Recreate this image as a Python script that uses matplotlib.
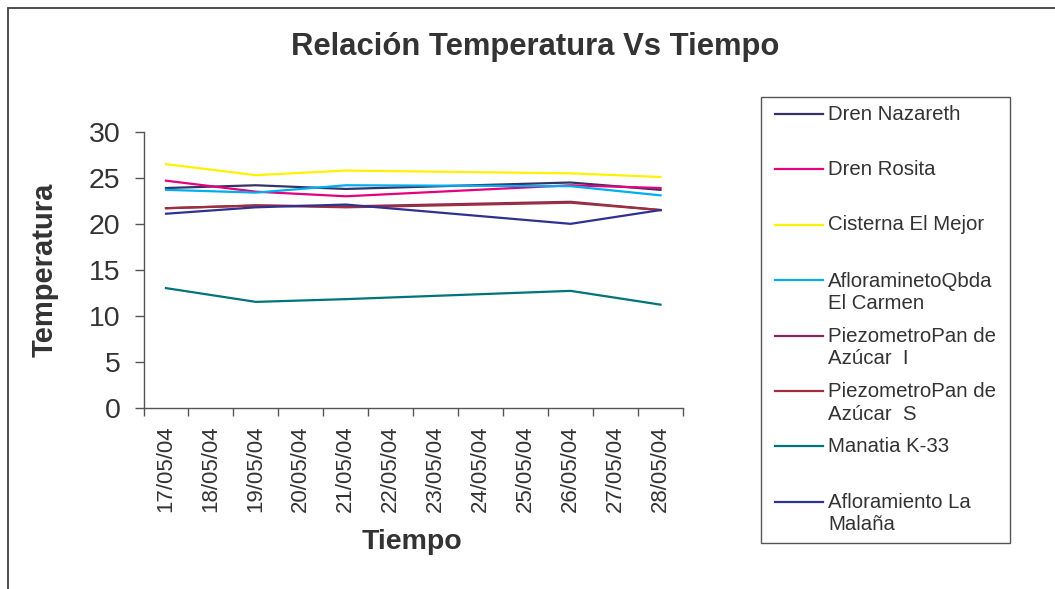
import numpy as np
import matplotlib
matplotlib.use("Agg")
import matplotlib.pyplot as plt
from matplotlib.patches import Rectangle
from matplotlib.lines import Line2D

plt.rcParams['font.family'] = ['Liberation Sans', 'DejaVu Sans']

# dates on the category axis, readings only on some of them
fechas = ['17/05/04', '18/05/04', '19/05/04', '20/05/04', '21/05/04', '22/05/04',
          '23/05/04', '24/05/04', '25/05/04', '26/05/04', '27/05/04', '28/05/04']
medidos = [0, 2, 4, 9, 11]   # 17, 19, 21, 26, 28 de mayo

nombres = ['Dren Nazareth', 'Dren Rosita', 'Cisterna El Mejor',
           'AfloraminetoQbda\nEl Carmen', 'PiezometroPan de\nAzúcar  I',
           'PiezometroPan de\nAzúcar  S', 'Manatia K-33',
           'Afloramiento La\nMalaña']

dren_nazareth = [23.9, 24.2, 23.8, 24.5, 23.7]
dren_rosita   = [24.7, 23.5, 23.0, 24.2, 23.9]
cisterna      = [26.5, 25.3, 25.8, 25.5, 25.1]
aflora_carmen = [23.7, 23.4, 24.2, 24.1, 23.1]
piezo_i       = [21.7, 22.0, 21.9, 22.4, 21.5]
piezo_s       = [21.7, 22.0, 21.8, 22.3, 21.5]
manatia       = [13.0, 11.5, 11.8, 12.7, 11.2]
malana        = [21.1, 21.8, 22.1, 20.0, 21.5]

series = [dren_nazareth, dren_rosita, cisterna, aflora_carmen,
          piezo_i, piezo_s, manatia, malana]
colores = ['#333366', '#E6007E', '#FFF200', '#00AEEF',
           '#862A5C', '#9E2F3C', '#00747A', '#2E3192']

gris = '#333333'

fig = plt.figure(figsize=(10.55, 5.89), dpi=100)
W, H = 1055, 589

# outer frame (only top and left visible in the picture)
fig.patches.append(Rectangle((8 / W, -0.1), 1.2, 1 - 8 / H + 0.1,
                             transform=fig.transFigure, fill=False,
                             edgecolor='#404040', lw=1.3))

ax = fig.add_axes([143.5 / W, 1 - 407.5 / H, (683 - 143.5) / W, (407.5 - 132) / H])
for s, c in zip(series, colores):
    ax.plot(medidos, s, color=c, lw=1.6)

ax.set_xlim(-0.5, len(fechas) - 0.5)
ax.set_ylim(0, 30)
ax.set_yticks(np.arange(0, 31, 5))
ax.set_xticks(range(len(fechas)))
ax.set_xticklabels(fechas, rotation=90)
ax.set_xticks(np.arange(-0.5, len(fechas), 1), minor=True)
ax.tick_params(axis='x', which='major', length=0, pad=13, labelsize=16, labelcolor=gris)
ax.tick_params(axis='x', which='minor', length=6, width=1, color='#555555')
ax.tick_params(axis='y', length=6.5, width=1, color='#555555', pad=10,
               labelsize=20.5, labelcolor=gris)
for sp in ['top', 'right']:
    ax.spines[sp].set_visible(False)
for sp in ['left', 'bottom']:
    ax.spines[sp].set_color('#555555')
    ax.spines[sp].set_linewidth(1)

ax.set_ylabel('Temperatura', fontsize=21, fontweight='bold', color=gris)
ax.yaxis.set_label_coords(-0.158, 0.5)
ax.set_xlabel('Tiempo', fontsize=20.5, fontweight='bold', color=gris)
ax.xaxis.set_label_coords(0.497, -0.44)

fig.text(535 / W, 1 - 47 / H, 'Relación Temperatura Vs Tiempo',
         ha='center', va='center', fontsize=22.3, fontweight='bold', color=gris)

# legend box drawn by hand so handles sit on the first line of each label
fig.patches.append(Rectangle((761 / W, 1 - 543 / H), (1010 - 761) / W, (543 - 97) / H,
                             transform=fig.transFigure, fill=False,
                             edgecolor='#555555', lw=1))
for i, (nom, c) in enumerate(zip(nombres, colores)):
    yc = 114 + i * 55.4
    fig.lines.append(Line2D([775 / W, 823 / W], [1 - yc / H, 1 - yc / H],
                            transform=fig.transFigure, color=c, lw=1.6))
    nlin = nom.count('\n') + 1
    ytxt = yc + (nlin - 1) * 12
    fig.text(828 / W, 1 - ytxt / H, nom, ha='left', va='center',
             fontsize=14.7, color=gris, linespacing=1.22)

fig.savefig('out.png', dpi=100)
